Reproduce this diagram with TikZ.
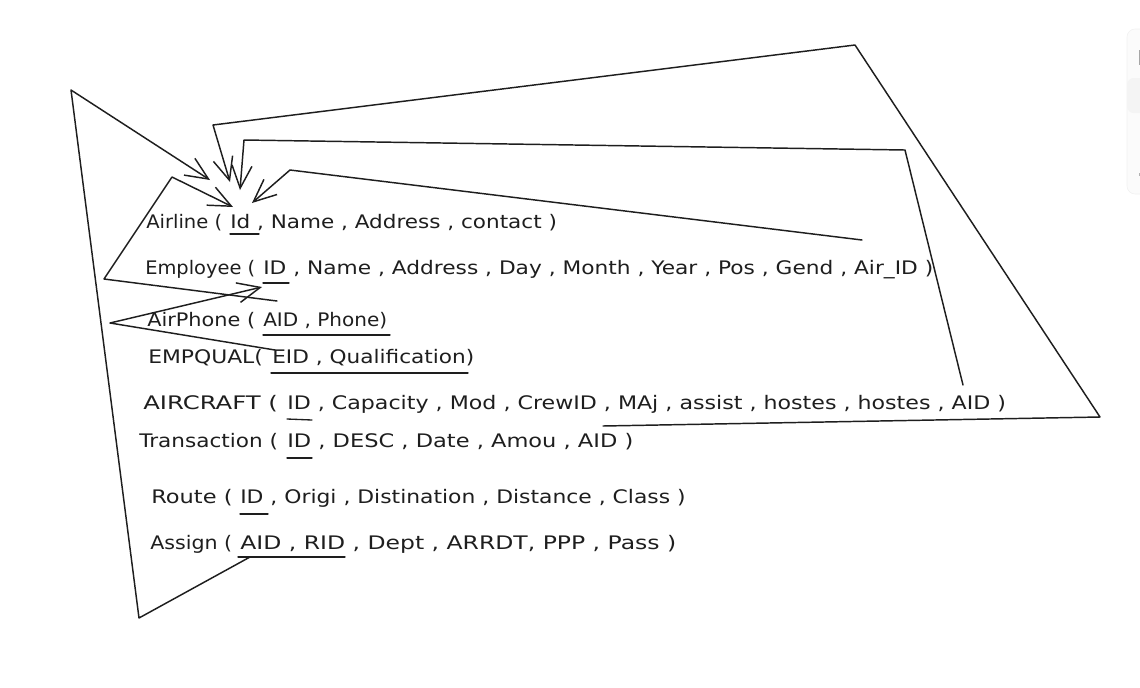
\documentclass[tikz,border=0pt]{standalone}
\usepackage{fontspec}
\setmainfont{DejaVu Sans}
\usepackage{graphicx}
\usetikzlibrary{arrows.meta}
\definecolor{ink}{HTML}{1E1E1E}
\tikzset{
  rel/.style={anchor=base west, inner sep=0pt, text=ink, font=\fontsize{14}{17}\selectfont},
  ul/.style={draw=ink, line width=1pt, line cap=round},
  link/.style={draw=ink, line width=1.1pt, line cap=round, line join=round,
    -{Straight Barb[length=17pt,width=15pt,line width=1.1pt]}},
}
\newcommand{\fitw}[2]{\resizebox{#1}{\height}{#2}}
\begin{document}
\begin{tikzpicture}[x=0.75pt,y=-0.75pt]
\useasboundingbox (0,0) rectangle (1140,687);
% side panel (partly visible)
\draw[draw=gray!12, fill=gray!3, rounded corners=6pt] (1127,29) rectangle (1170,194);
\fill[gray!9, rounded corners=5pt] (1127,78) rectangle (1170,113);
\fill[gray!70] (1138.5,50) rectangle (1141,65);
\fill[gray!60] (1138.5,173) rectangle (1141,176);
% relations: name part and field part of each row
\node[rel] (airline) at (146,228) {\fitw{57pt}{Airline (}};
\node[rel] (airlineF) at (230,228) {\fitw{245pt}{Id , Name , Address , contact )}};
\node[rel] (employee) at (145,274) {\fitw{82.5pt}{Employee (}};
\node[rel] (employeeF) at (263,274) {\fitw{502.5pt}{ID , Name , Address , Day , Month , Year , Pos , Gend , Air\_ID )}};
\node[rel] (airphone) at (147,326) {\fitw{81pt}{AirPhone (}};
\node[rel] (airphoneF) at (263,326) {\fitw{93pt}{AID , Phone)}};
\node[rel] (empqual) at (148,363) {\fitw{86pt}{EMPQUAL(}};
\node[rel] (empqualF) at (272,363) {\fitw{151.5pt}{EID , Qualification)}};
\node[rel] (aircraft) at (143,409) {\fitw{101pt}{AIRCRAFT (}};
\node[rel] (aircraftF) at (287,409) {\fitw{539pt}{ID , Capacity , Mod , CrewID , MAj , assist , hostes , hostes , AID )}};
\node[rel] (transaction) at (139,447) {\fitw{104pt}{Transaction (}};
\node[rel] (transactionF) at (287,447) {\fitw{259.5pt}{ID , DESC , Date , Amou , AID )}};
\node[rel] (route) at (151,503) {\fitw{61pt}{Route (}};
\node[rel] (routeF) at (240,503) {\fitw{334pt}{ID , Origi , Distination , Distance , Class )}};
\node[rel] (assign) at (150,549) {\fitw{61.5pt}{Assign (}};
\node[rel] (assignF) at (240,549) {\fitw{327pt}{AID , RID , Dept , ARRDT, PPP , Pass )}};
% underlines of keys
\draw[ul] (230,234) -- (259,234);
\draw[ul] (263,283) -- (289,283);
\draw[ul] (263,335) -- (390,335);
\draw[ul] (271,373) -- (468,373);
\draw[ul] (287,419) -- (312,420);
\draw[ul] (287,458) -- (312,458);
\draw[ul] (240,514) -- (268,514);
\draw[ul] (238,557) -- (345,557);
% end points of the links
\coordinate (tipA) at (210,180);
\coordinate (tipB) at (230,182);
\coordinate (tipC) at (240,190);
\coordinate (tipD) at (252,203);
\coordinate (tipE) at (233,207);
\coordinate (tipF) at (262,287);
\coordinate (fromAssign) at (250,557);
\coordinate (fromTrans) at (603,426);
\coordinate (fromAircraft) at (963,385);
\coordinate (fromEmp) at (862,240);
\coordinate (fromPhone) at (277,301);
\coordinate (fromQual) at (275,350);
% links
\draw[link] (fromAssign) -- (139,618) -- (71,90) -- (tipA);
\draw[link] (fromTrans) -- (1100,417) -- (855,45) -- (213,125) -- (tipB);
\draw[link] (fromAircraft) -- (905,150) -- (244,140) -- (tipC);
\draw[link] (fromEmp) -- (290,170) -- (tipD);
\draw[link] (fromPhone) -- (104,279) -- (172,177) -- (tipE);
\draw[link] (fromQual) -- (110,323) -- (tipF);
\end{tikzpicture}
\end{document}
